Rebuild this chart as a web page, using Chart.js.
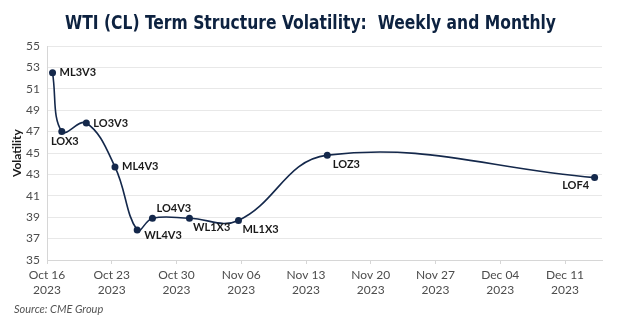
<!DOCTYPE html>
<html>
<head>
<meta charset="utf-8">
<script src="https://cdn.jsdelivr.net/npm/chart.js@4"></script>
<style>
  html, body { margin: 0; padding: 0; background: #fff; }
  #wrap { width: 624px; height: 326px; position: relative; }
</style>
</head>
<body>
<div id="wrap"><canvas id="chartVol"></canvas></div>
<script>
// Term structure: days after Oct 16 2023 for each expiry, and its implied vol
const contracts  = ['ML3V3', 'LOX3', 'LO3V3', 'ML4V3', 'WL4V3', 'LO4V3', 'WL1X3', 'ML1X3', 'LOZ3', 'LOF4'];
const expiryDays = [0.6, 1.6, 4.25, 7.35, 9.75, 11.4, 15.4, 20.7, 30.3, 59.2];
const volatility = [52.5, 47.0, 47.8, 43.7, 37.8, 38.9, 38.9, 38.7, 44.8, 42.7];
const weekLabels = ['Oct 16', 'Oct 23', 'Oct 30', 'Nov 06', 'Nov 13', 'Nov 20', 'Nov 27', 'Dec 04', 'Dec 11'];
const yearLabel  = '2023';

const NAVY = '#14284b';
const TICK = '#4d4d4d';
const GRID = '#e8e8e8';

// where each contract name sits relative to its point
const LABEL_POS = {
  ML3V3: { dx: 7, dy: 0, align: 'left' },
  LOX3:  { dx: 3, dy: 10, align: 'center' },
  LO3V3: { dx: 7, dy: 0, align: 'left' },
  ML4V3: { dx: 7, dy: 0, align: 'left' },
  WL4V3: { dx: 7, dy: 5, align: 'left' },
  LO4V3: { dx: 4, dy: -9.5, align: 'left' },
  WL1X3: { dx: 3.5, dy: 9.5, align: 'left' },
  ML1X3: { dx: 4, dy: 9.5, align: 'left' },
  LOZ3:  { dx: 5.5, dy: 9, align: 'left' },
  LOF4:  { dx: -5.5, dy: 8, align: 'right' }
};

const decorPlugin = {
  id: 'decor',
  afterDatasetsDraw(chart) {
    const ctx = chart.ctx;
    const meta = chart.getDatasetMeta(0);
    ctx.save();
    ctx.fillStyle = '#1a1a1a';
    ctx.font = 'bold 11px Lato';
    ctx.textBaseline = 'middle';
    meta.data.forEach((pt, i) => {
      const name = contracts[i];
      const p = LABEL_POS[name];
      ctx.textAlign = p.align;
      ctx.fillText(name, pt.x + p.dx, pt.y + p.dy);
    });
    ctx.restore();
  },
  afterDraw(chart) {
    const ctx = chart.ctx;
    ctx.save();
    // title
    ctx.fillStyle = '#0d2240';
    ctx.font = 'bold 19px "DejaVu Sans Condensed", "DejaVu Sans"';
    ctx.textAlign = 'center';
    ctx.textBaseline = 'alphabetic';
    ctx.fillText('WTI (CL) Term Structure Volatility:  Weekly and Monthly', 310.5, 29, 491);
    // source note
    ctx.fillStyle = '#555';
    ctx.font = 'italic 11px Lato';
    ctx.textAlign = 'left';
    ctx.textBaseline = 'middle';
    ctx.fillText('Source: CME Group', 14, 309);
    ctx.restore();
  }
};

new Chart(document.getElementById('chartVol'), {
  type: 'line',
  data: {
    labels: contracts,
    datasets: [{
      label: 'Volatility',
      data: expiryDays.map((d, i) => ({ x: d, y: volatility[i] })),
      borderColor: NAVY,
      backgroundColor: NAVY,
      borderWidth: 1.6,
      tension: 0.4,
      pointRadius: 3.5,
      pointBackgroundColor: NAVY,
      pointBorderWidth: 0,
      fill: false
    }]
  },
  options: {
    responsive: true,
    maintainAspectRatio: false,
    animation: false,
    layout: { padding: { top: 46, right: 22, bottom: 26, left: 0 } },
    plugins: {
      legend: { display: false },
      tooltip: { enabled: false },
      title: { display: false }
    },
    scales: {
      x: {
        type: 'linear',
        min: 0,
        max: 60,
        afterBuildTicks: s => { s.ticks = weekLabels.map((_, i) => ({ value: i * 7 })); },
        afterFit: s => { s.height = 40; },
        ticks: {
          color: TICK,
          font: { family: 'Lato', size: 12, lineHeight: 1.25 },
          padding: 4,
          maxRotation: 0,
          autoSkip: false,
          callback: v => [weekLabels[Math.round(v / 7)], yearLabel]
        },
        grid: { drawOnChartArea: false, drawTicks: true, tickLength: 4, color: '#d6d6d6' },
        border: { color: '#d6d6d6' }
      },
      y: {
        min: 35,
        max: 55,
        afterFit: s => { s.width = 47; },
        ticks: { stepSize: 2, color: TICK, font: { family: 'Lato', size: 12 }, padding: 7 },
        grid: { color: GRID, drawTicks: false },
        border: { color: '#d6d6d6' },
        title: {
          display: true,
          text: 'Volatility',
          color: '#1a1a1a',
          font: { family: 'Lato', size: 12, weight: 'bold' },
          padding: { top: 10 }
        }
      }
    }
  },
  plugins: [decorPlugin]
});
</script>
</body>
</html>
